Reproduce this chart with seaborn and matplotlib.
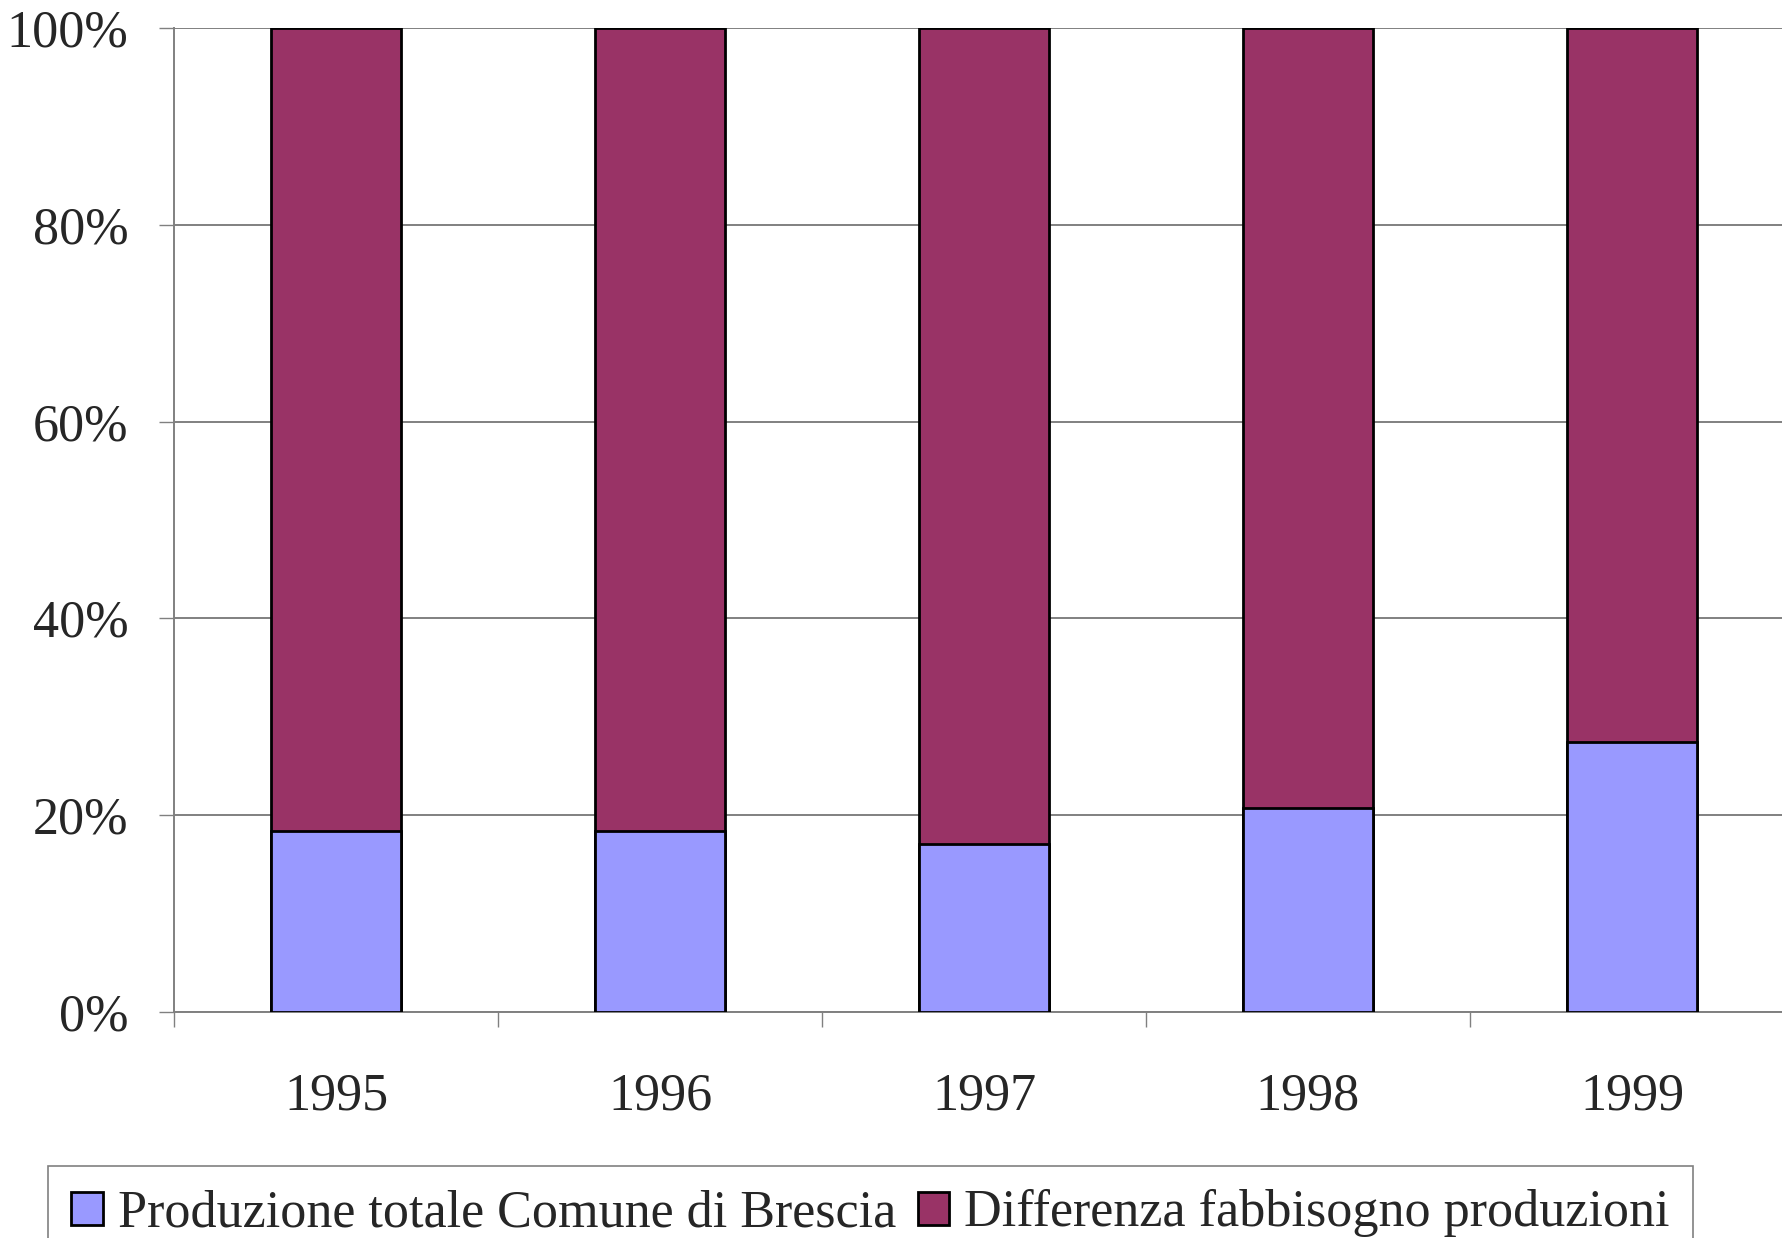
import numpy as np
import seaborn as sns
import matplotlib.pyplot as plt
from matplotlib.patches import Patch
from matplotlib.ticker import PercentFormatter, FixedLocator

years = ["1995", "1996", "1997", "1998", "1999"]
produzione = [18.4, 18.4, 17.1, 20.7, 27.4]
differenza = [100 - p for p in produzione]
labels = ["Produzione totale Comune di Brescia", "Differenza fabbisogno produzioni"]
colors = ["#9999FF", "#993366"]

sns.set_style("white")
plt.rcParams['font.family'] = ['Liberation Serif', 'DejaVu Serif']

fig = plt.figure(figsize=(17.83, 12.38), dpi=100)
ax = fig.add_axes([174 / 1783, 226 / 1238, 1620 / 1783, 984 / 1238])

totals = [p + d for p, d in zip(produzione, differenza)]
sns.barplot(x=years, y=totals, color=colors[1], width=0.4, edgecolor="black",
            linewidth=2.0, saturation=1, ax=ax, zorder=3)
sns.barplot(x=years, y=produzione, color=colors[0], width=0.4, edgecolor="black",
            linewidth=2.0, saturation=1, ax=ax, zorder=4)

ax.set_ylim(0, 100)
ax.set_xlim(-0.5, 4.5)
ax.set_yticks([0, 20, 40, 60, 80, 100])
ax.yaxis.set_major_formatter(PercentFormatter(decimals=0))
ax.yaxis.grid(True, color="#808080", linewidth=1.4, zorder=0)
ax.set_axisbelow(True)
ax.set_xlabel("")
ax.set_ylabel("")

for s in ["top", "right"]:
    ax.spines[s].set_visible(False)
for s in ["left", "bottom"]:
    ax.spines[s].set_color("#808080")
    ax.spines[s].set_linewidth(1.4)

ax.tick_params(axis="y", left=True, length=11, width=1.0, color="#808080",
               labelsize=37.5, pad=22)
ax.tick_params(axis="x", which="major", bottom=False, labelsize=37.5, pad=40)
ax.xaxis.set_minor_locator(FixedLocator(np.arange(-0.5, 5.0, 1.0)))
ax.tick_params(axis="x", which="minor", bottom=True, length=11, width=1.0,
               color="#808080")

handles = [Patch(facecolor=c, edgecolor="black", linewidth=2.0) for c in colors]
leg = fig.legend(handles, labels, loc="upper left",
                 bbox_to_anchor=(48 / 1783, 1 - 1166 / 1238), ncol=2,
                 fontsize=37.5, frameon=True, fancybox=False, framealpha=1,
                 edgecolor="#808080", handlelength=0.6, handleheight=0.6,
                 handletextpad=0.3, columnspacing=0.4, borderpad=0.45,
                 borderaxespad=0)
leg.get_frame().set_linewidth(1.2)

fig.savefig("out.png", dpi=100)
